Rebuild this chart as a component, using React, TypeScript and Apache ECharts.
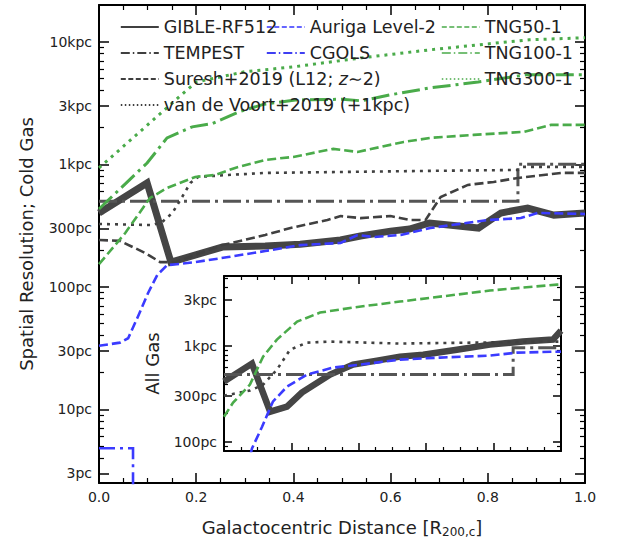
import React, { useEffect, useRef } from "react";
import * as echarts from "echarts";

const FONT = "DejaVu Sans";
const TEXT = "#222222";

// ---- Main panel: cold gas. [x = distance / R200c, y = resolution in pc]
const gibleCold = [[0, 401], [0.099, 705], [0.148, 159], [0.254, 211], [0.342, 215], [0.414, 223], [0.497, 241], [0.538, 260], [0.6, 285], [0.639, 296], [0.68, 332], [0.781, 302], [0.827, 401], [0.882, 440], [0.936, 385], [1, 401]];
const aurigaCold = [[0, 33], [0.043, 35], [0.06, 38], [0.08, 57], [0.101, 89], [0.12, 125], [0.14, 150], [0.198, 159], [0.266, 175], [0.342, 196], [0.414, 219], [0.497, 228], [0.532, 265], [0.565, 255], [0.621, 265], [0.682, 302], [0.8, 351], [0.868, 364], [0.903, 401], [1, 393]];
const cgolsCold = [[0, 4.8], [0.07, 4.8], [0.07, 1]];
const tempestCold = [[0, 500], [0.862, 500], [0.862, 1000], [1, 1000]];
const sureshCold = [[0, 241], [0.043, 237], [0.095, 189], [0.126, 159], [0.157, 159], [0.198, 182], [0.254, 219], [0.342, 265], [0.394, 302], [0.47, 351], [0.497, 378], [0.538, 364], [0.6, 378], [0.641, 351], [0.672, 351], [0.703, 541], [0.759, 679], [0.812, 718], [0.862, 774], [0.951, 851], [1, 851]];
const vdvCold = [[0, 326], [0.109, 319], [0.13, 338], [0.151, 401], [0.171, 541], [0.188, 705], [0.204, 789], [0.266, 819], [0.342, 851], [0.676, 884], [0.862, 900], [0.872, 953], [1, 953]];
const tng50Cold = [[0, 153], [0.054, 275], [0.105, 531], [0.14, 641], [0.198, 789], [0.239, 819], [0.28, 935], [0.342, 1087], [0.4, 1150], [0.482, 1337], [0.532, 1263], [0.627, 1524], [0.682, 1644], [0.771, 1740], [0.874, 1841], [0.93, 2099], [1, 2099]];
const tng100Cold = [[0, 432], [0.099, 1026], [0.14, 1644], [0.192, 2023], [0.233, 2150], [0.29, 2700], [0.34, 3100], [0.404, 3350], [0.5, 3400], [0.54, 3300], [0.6, 3700], [0.68, 4200], [0.78, 4700], [0.88, 5400], [1, 5400]];
const tng300Cold = [[0, 935], [0.05, 1400], [0.1, 2100], [0.15, 3150], [0.2, 4700], [0.3, 5700], [0.4, 6250], [0.54, 7400], [0.68, 8600], [0.78, 9450], [0.885, 10400], [1, 10800]];

// ---- Inset: all gas
const gibleAll = [[0, 422], [0.083, 649], [0.137, 205], [0.187, 232], [0.231, 324], [0.315, 499], [0.383, 634], [0.454, 698], [0.522, 768], [0.591, 805], [0.691, 907], [0.789, 1024], [0.887, 1101], [0.976, 1155], [1, 1432]];
const aurigaAll = [[0.07, 55], [0.083, 85], [0.113, 143], [0.145, 261], [0.187, 374], [0.246, 499], [0.323, 590], [0.404, 634], [0.522, 715], [0.641, 750], [0.789, 787], [0.869, 845], [1, 866]];
const tempestAll = [[0, 500], [0.858, 500], [0.858, 950], [1, 950]];
const vdvAll = [[0, 301], [0.077, 340], [0.116, 392], [0.157, 562], [0.196, 907], [0.246, 1074], [0.315, 1101], [0.522, 1050], [0.976, 1101], [1, 1101]];
const tng50All = [[0, 182], [0.027, 255], [0.077, 393], [0.116, 768], [0.157, 1155], [0.217, 1778], [0.285, 2206], [0.383, 2489], [0.522, 2871], [0.789, 3742], [0.988, 4315], [1, 4350]];

// ---- Tick values (pc)
const mainMajorTicks = [3, 10, 30, 100, 300, 1000, 3000, 10000];
const mainMinorTicks = [4, 5, 6, 7, 8, 9, 20, 40, 50, 60, 70, 80, 90, 200, 400, 500, 600, 700, 800, 900, 2000, 4000, 5000, 6000, 7000, 8000, 9000];
const insetMajorTicks = [100, 300, 1000, 3000];
const insetMinorTicks = [90, 200, 400, 500, 600, 700, 800, 900, 2000, 4000, 5000];
const mainRange = [2.5, 20000];
const insetRange = [80, 5300];

const legendCol1 = ["GIBLE-RF512", "TEMPEST", "Suresh+2019 (L12; z∼2)", "van de Voort+2019 (+1kpc)"];
const legendCol2 = ["Auriga Level-2", "CGOLS"];
const legendCol3 = ["TNG50-1", "TNG100-1", "TNG300-1"];

const GRAY = "#454545";
const BLUE = "#3b3bff";
const GREEN = "#4aab4a";
const DASH = [9, 4];
const DOT = [3, 5];
const DASHDOT = [18, 5, 3, 5];

const lg = (pts: number[][]) => pts.map(([x, v]) => [x, Math.log10(v)]);
const L = (arr: number[]) => arr.map((v) => Math.log10(v));
const fmt = (lv: number) => {
  const v = Math.round(Math.pow(10, lv));
  return v >= 1000 ? `${Math.round(v / 1000)}kpc` : `${v}pc`;
};

function mk(name: string, data: number[][], color: string, width: number, dash: any, xi: number, yi: number, z: number) {
  return {
    type: "line",
    name,
    data: lg(data),
    xAxisIndex: xi,
    yAxisIndex: yi,
    symbol: "none",
    showSymbol: false,
    clip: true,
    silent: true,
    z,
    lineStyle: { color, width, type: dash, cap: "butt", join: "miter" },
    itemStyle: { color },
  };
}

const legendStyles: Record<string, any> = {
  "GIBLE-RF512": { color: "#000", type: "solid" },
  TEMPEST: { color: "#000", type: [9, 3, 1.5, 3] },
  "Suresh+2019 (L12; z∼2)": { color: "#000", type: [5, 2.5] },
  "van de Voort+2019 (+1kpc)": { color: "#000", type: [1.5, 2.5] },
  "Auriga Level-2": { color: "#3333ff", type: [5, 2.5] },
  CGOLS: { color: "#0000ee", type: [9, 3, 1.5, 3] },
  "TNG50-1": { color: GREEN, type: [5, 2.5] },
  "TNG100-1": { color: GREEN, type: [9, 3, 1.5, 3] },
  "TNG300-1": { color: GREEN, type: [1.5, 2.5] },
};

function legendDef(names: string[], left: number) {
  return {
    orient: "vertical",
    left,
    top: 18,
    padding: 0,
    itemGap: 8,
    itemWidth: 38,
    itemHeight: 14,
    selectedMode: false,
    formatter: (n: string) => n.replace("z∼", "{i|z}∼"),
    textStyle: {
      color: TEXT, fontSize: 17.5, fontFamily: FONT,
      rich: { i: { color: TEXT, fontSize: 17.5, fontFamily: FONT, fontStyle: "italic" } },
    },
    data: names.map((n) => ({
      name: n,
      lineStyle: { color: legendStyles[n].color, width: 1.6, type: legendStyles[n].type },
      itemStyle: { color: "rgba(0,0,0,0)", borderColor: "rgba(0,0,0,0)", borderWidth: 0 },
    })),
  };
}

function xAx(grid: number, pos: string, major: number, minor: number, showLabel: boolean, z: number, extra: any = {}) {
  return {
    type: "value",
    gridIndex: grid,
    position: pos,
    min: 0,
    max: 1,
    interval: 0.2,
    z,
    axisLine: { show: true, onZero: false, lineStyle: { color: "#000", width: 2 } },
    axisTick: { show: true, inside: true, length: major, lineStyle: { color: "#000", width: 1.5 } },
    minorTick: { show: true, splitNumber: 4, length: minor, lineStyle: { color: "#000", width: 1.2 } },
    axisLabel: { show: showLabel, formatter: (v: number) => v.toFixed(1), color: TEXT, fontSize: 14, fontFamily: FONT, margin: 7 },
    splitLine: { show: false },
    ...extra,
  };
}

function yAx(grid: number, pos: string, range: number[], ticks: number[], len: number, showLine: boolean, showLabel: boolean, z: number, extra: any = {}) {
  return {
    type: "value",
    gridIndex: grid,
    position: pos,
    min: Math.log10(range[0]),
    max: Math.log10(range[1]),
    z,
    axisLine: { show: showLine, onZero: false, lineStyle: { color: "#000", width: 2 } },
    axisTick: { show: true, inside: true, length: len, customValues: L(ticks), lineStyle: { color: "#000", width: len > 6 ? 1.5 : 1.2 } },
    axisLabel: { show: showLabel, customValues: L(ticks), formatter: fmt, color: TEXT, fontSize: 14, fontFamily: FONT, margin: 7 },
    splitLine: { show: false },
    ...extra,
  };
}

export default function App() {
  const ref = useRef<HTMLDivElement>(null);
  useEffect(() => {
    if (!ref.current) return;
    const chart = echarts.init(ref.current, null, { renderer: "svg" });
    const option: any = {
      animation: false,
      backgroundColor: "#ffffff",
      textStyle: { fontFamily: FONT },
      grid: [
        { left: 99, top: 5, width: 486, height: 478, show: false },
        { left: 224, top: 276, width: 337, height: 175, show: true, backgroundColor: "#ffffff", borderWidth: 0, z: 10 },
      ],
      legend: [legendDef(legendCol1, 120), legendDef(legendCol2, 266), legendDef(legendCol3, 441)],
      xAxis: [
        xAx(0, "bottom", 10, 5, true, 1, {
          name: "Galactocentric Distance [R{s|200,c}]",
          nameLocation: "middle",
          nameGap: 33,
          nameTextStyle: {
            color: TEXT, fontSize: 18, fontFamily: FONT, lineHeight: 22,
            rich: { s: { fontSize: 12, fontFamily: FONT, color: TEXT, verticalAlign: "bottom", padding: [8, 0, 0, 0] } },
          },
        }),
        xAx(0, "top", 10, 5, false, 1),
        xAx(1, "bottom", 8, 4, false, 12),
        xAx(1, "top", 8, 4, false, 12),
      ],
      yAxis: [
        yAx(0, "left", mainRange, mainMajorTicks, 10, true, true, 1, {
          name: "Spatial Resolution; Cold Gas",
          nameLocation: "middle",
          nameGap: 64,
          nameTextStyle: { color: TEXT, fontSize: 18, fontFamily: FONT },
        }),
        yAx(0, "left", mainRange, mainMinorTicks, 5, false, false, 1),
        yAx(0, "right", mainRange, mainMajorTicks, 10, true, false, 1),
        yAx(0, "right", mainRange, mainMinorTicks, 5, false, false, 1),
        yAx(1, "left", insetRange, insetMajorTicks, 8, true, true, 12, {
          name: "All Gas",
          nameLocation: "middle",
          nameGap: 63,
          nameTextStyle: { color: TEXT, fontSize: 18, fontFamily: FONT },
        }),
        yAx(1, "left", insetRange, insetMinorTicks, 4, false, false, 12),
        yAx(1, "right", insetRange, insetMajorTicks, 8, true, false, 12),
        yAx(1, "right", insetRange, insetMinorTicks, 4, false, false, 12),
      ],
      series: [
        mk("GIBLE-RF512", gibleCold, GRAY, 7, "solid", 0, 0, 2),
        mk("TEMPEST", tempestCold, "#555555", 3, DASHDOT, 0, 0, 3),
        mk("Suresh+2019 (L12; z∼2)", sureshCold, "#404040", 2.6, DASH, 0, 0, 3),
        mk("van de Voort+2019 (+1kpc)", vdvCold, "#404040", 2.6, DOT, 0, 0, 3),
        mk("Auriga Level-2", aurigaCold, BLUE, 2.6, DASH, 0, 0, 3),
        mk("CGOLS", cgolsCold, BLUE, 2.6, [16, 5, 3, 5], 0, 0, 3),
        mk("TNG50-1", tng50Cold, GREEN, 2.6, DASH, 0, 0, 3),
        mk("TNG100-1", tng100Cold, GREEN, 3, DASHDOT, 0, 0, 3),
        mk("TNG300-1", tng300Cold, GREEN, 3, DOT, 0, 0, 3),
        mk("GIBLE-RF512", gibleAll, GRAY, 6.5, "solid", 2, 4, 13),
        mk("TEMPEST", tempestAll, "#555555", 3, DASHDOT, 2, 4, 14),
        mk("van de Voort+2019 (+1kpc)", vdvAll, "#404040", 2.6, DOT, 2, 4, 14),
        mk("Auriga Level-2", aurigaAll, BLUE, 2.6, DASH, 2, 4, 14),
        mk("TNG50-1", tng50All, GREEN, 2.6, DASH, 2, 4, 14),
      ],
    };
    chart.setOption(option);
    return () => chart.dispose();
  }, []);
  return (
    <div
      ref={ref}
      style={{ position: "absolute", left: 0, top: 0, width: 619, height: 545, background: "#fff" }}
    />
  );
}
